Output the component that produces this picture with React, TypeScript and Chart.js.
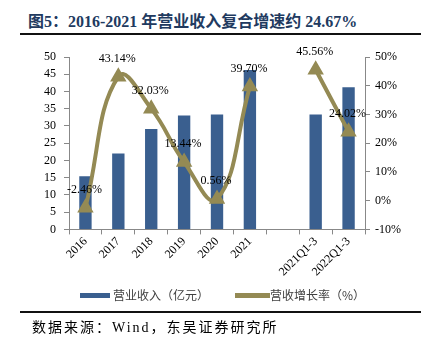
import React, { useEffect, useRef } from "react";
import { Chart, registerables } from "chart.js";

Chart.register(...registerables);

const categories = ["2016", "2017", "2018", "2019", "2020", "2021", "", "2021Q1-3", "2022Q1-3"];
const revenue = [15.4, 22.0, 29.1, 33.0, 33.3, 46.2, null, 33.3, 41.2];
const growth = [-2.46, 43.14, 32.03, 13.44, 0.56, 39.7, null, 45.56, 24.02];
const leftTicks = { min: 0, max: 50, step: 5 };
const rightTicks = { min: -10, max: 50, step: 10 };

const BAR = "#3a5f8f";
const LINE = "#948a54";
const SERIF = "'Liberation Serif', 'Times New Roman', 'Noto Sans CJK SC', serif";
const CJK = "'Liberation Serif', 'Noto Sans CJK SC', serif";

const labelPlugin = {
  id: "pointLabels",
  afterDatasetsDraw(chart: any) {
    const meta = chart.getDatasetMeta(1);
    const ctx = chart.ctx;
    ctx.save();
    ctx.font = `12px ${SERIF}`;
    ctx.fillStyle = "#000";
    ctx.textAlign = "center";
    ctx.textBaseline = "middle";
    meta.data.forEach((el: any, i: number) => {
      const v = growth[i];
      if (v === null || v === undefined) return;
      ctx.fillText(v.toFixed(2) + "%", el.x - 1, el.y - 18);
    });
    ctx.restore();
  },
};

export default function App() {
  const ref = useRef<HTMLCanvasElement>(null);
  useEffect(() => {
    if (!ref.current) return;
    const chart = new Chart(ref.current, {
      type: "bar",
      data: {
        labels: categories,
        datasets: [
          {
            type: "bar",
            label: "营业收入（亿元）",
            data: revenue,
            backgroundColor: BAR,
            yAxisID: "y",
            order: 2,
            categoryPercentage: 0.8,
            barPercentage: 0.47,
          },
          {
            type: "line",
            label: "营收增长率（%）",
            data: growth,
            borderColor: LINE,
            backgroundColor: LINE,
            borderWidth: 4,
            tension: 0.45,
            spanGaps: false,
            pointStyle: "triangle",
            pointRadius: 5.5,
            pointBackgroundColor: LINE,
            pointBorderColor: LINE,
            yAxisID: "y1",
            order: 1,
          } as any,
        ],
      },
      options: {
        animation: false,
        responsive: false,
        maintainAspectRatio: false,
        layout: { padding: { left: 36, right: 15, top: 57, bottom: 11 } },
        plugins: { legend: { display: false }, tooltip: { enabled: false } },
        scales: {
          x: {
            offset: true,
            grid: { display: true, drawOnChartArea: false, offset: true, tickLength: 5, color: "#888" },
            border: { color: "#888" },
            ticks: {
              minRotation: 45,
              maxRotation: 45,
              autoSkip: false,
              color: "#000",
              font: { family: SERIF, size: 12 },
              padding: 0,
            },
          },
          y: {
            position: "left",
            min: leftTicks.min,
            max: leftTicks.max,
            grid: { drawOnChartArea: false, tickLength: 5, color: "#888" },
            border: { color: "#888" },
            ticks: {
              stepSize: leftTicks.step,
              autoSkip: false,
              color: "#000",
              font: { family: SERIF, size: 12 },
              padding: 8,
            },
          },
          y1: {
            position: "right",
            min: rightTicks.min,
            max: rightTicks.max,
            grid: { drawOnChartArea: false, tickLength: 5, color: "#888" },
            border: { color: "#888" },
            ticks: {
              stepSize: rightTicks.step,
              autoSkip: false,
              color: "#000",
              font: { family: SERIF, size: 12 },
              padding: 5,
              callback: (v: any) => v + "%",
            },
          },
        },
      },
      plugins: [labelPlugin],
    });
    return () => chart.destroy();
  }, []);

  return (
    <div style={{ position: "fixed", left: 0, top: 0, width: 421, height: 352, background: "#fff", overflow: "hidden" }}>
      <div
        style={{
          position: "absolute",
          left: 28,
          top: 8,
          fontFamily: SERIF,
          fontWeight: "bold",
          fontSize: 16,
          color: "#213a5f",
          whiteSpace: "nowrap",
        }}
      >
        图5：2016-2021 年营业收入复合增速约 24.67%
      </div>
      <div style={{ position: "absolute", left: 20, top: 33, width: 401, height: 2, background: "#111" }} />
      <canvas ref={ref} width={421} height={290} style={{ position: "absolute", left: 0, top: 0, width: 421, height: 290 }} />
      <div style={{ position: "absolute", left: 80, top: 293, width: 30, height: 5, background: BAR }} />
      <div style={{ position: "absolute", left: 113, top: 287, fontFamily: "'Noto Sans CJK SC', sans-serif", fontSize: 12, color: "#404040", whiteSpace: "nowrap", lineHeight: "16px" }}>
        营业收入（亿元）
      </div>
      <div style={{ position: "absolute", left: 235, top: 293, width: 35, height: 5, background: LINE }} />
      <div style={{ position: "absolute", left: 270, top: 287, fontFamily: "'Noto Sans CJK SC', sans-serif", fontSize: 12, color: "#404040", whiteSpace: "nowrap", lineHeight: "16px" }}>
        营收增长率（%）
      </div>
      <div style={{ position: "absolute", left: 20, top: 311, width: 401, height: 2, background: "#111" }} />
      <div
        style={{
          position: "absolute",
          left: 32,
          top: 319,
          fontFamily: CJK,
          fontSize: 14,
          letterSpacing: 2,
          color: "#000",
          whiteSpace: "nowrap",
          lineHeight: "18px",
        }}
      >
        数据来源：Wind，东吴证券研究所
      </div>
    </div>
  );
}
